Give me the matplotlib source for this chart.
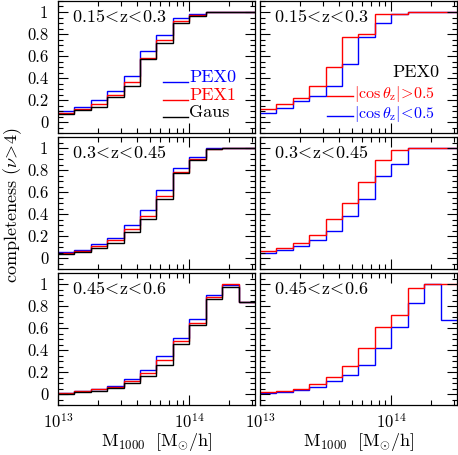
import matplotlib
matplotlib.use('Agg')
import matplotlib.pyplot as plt
from matplotlib.ticker import MultipleLocator, LogLocator, NullFormatter

plt.rcParams['font.family'] = 'serif'
plt.rcParams['font.serif'] = ['cmr10']
plt.rcParams['mathtext.fontset'] = 'cm'
plt.rcParams['axes.formatter.use_mathtext'] = True

# bin edges in log10(M1000)
log_edges = [13.0, 13.125, 13.25, 13.375, 13.5, 13.625, 13.75, 13.875,
             14.0, 14.125, 14.25, 14.375, 14.5]
edges = [10 ** e for e in log_edges]

z_labels = [r'0.15\!<\!z\!<\!0.3', r'0.3\!<\!z\!<\!0.45', r'0.45\!<\!z\!<\!0.6']

# left column: PEX0, PEX1, Gaus
pex0 = [
    [0.10, 0.14, 0.20, 0.28, 0.415, 0.65, 0.79, 0.95, 0.98, 1.0, 1.0, 1.0],
    [0.055, 0.075, 0.13, 0.18, 0.30, 0.435, 0.62, 0.82, 0.92, 1.0, 1.0, 1.0],
    [0.012, 0.03, 0.05, 0.077, 0.14, 0.22, 0.35, 0.51, 0.68, 0.90, 0.99, 0.84],
]
pex1 = [
    [0.085, 0.115, 0.16, 0.25, 0.36, 0.58, 0.745, 0.92, 0.97, 1.0, 1.0, 1.0],
    [0.05, 0.065, 0.11, 0.16, 0.26, 0.385, 0.565, 0.78, 0.90, 0.99, 1.0, 1.0],
    [0.006, 0.025, 0.043, 0.068, 0.117, 0.19, 0.31, 0.48, 0.65, 0.885, 1.0, 0.84],
]
gaus = [
    [0.076, 0.106, 0.14, 0.23, 0.33, 0.57, 0.72, 0.90, 0.965, 1.0, 1.0, 1.0],
    [0.04, 0.055, 0.09, 0.14, 0.235, 0.355, 0.535, 0.77, 0.89, 0.99, 1.0, 1.0],
    [0.0, 0.015, 0.03, 0.055, 0.10, 0.166, 0.26, 0.455, 0.63, 0.86, 0.97, 0.84],
]

# right column: PEX0 split by |cos theta_z|
cos_hi = [
    [0.115, 0.16, 0.22, 0.325, 0.50, 0.77, 0.80, 0.98, 0.98, 1.0, 1.0, 1.0],
    [0.06, 0.09, 0.14, 0.21, 0.355, 0.50, 0.69, 0.895, 0.985, 1.0, 1.0, 1.0],
    [0.015, 0.03, 0.046, 0.092, 0.154, 0.255, 0.415, 0.61, 0.72, 0.96, 1.0, 1.0],
]
cos_lo = [
    [0.085, 0.125, 0.19, 0.235, 0.33, 0.53, 0.775, 0.90, 0.98, 1.0, 1.0, 1.0],
    [0.048, 0.07, 0.11, 0.16, 0.245, 0.385, 0.535, 0.75, 0.855, 1.0, 1.0, 1.0],
    [0.006, 0.02, 0.04, 0.06, 0.114, 0.175, 0.268, 0.42, 0.61, 0.825, 1.0, 0.67],
]

yticks = [0, 0.2, 0.4, 0.6, 0.8, 1]
ytick_labels = ['0', '0.2', '0.4', '0.6', '0.8', '1']

W, H = 458, 455
fig = plt.figure(figsize=(W / 100, H / 100), dpi=100)

col_x = [58, 260]
row_y = [1, 137, 273]
pw, ph = 197, 132
fs = 12
lw = 1.0

axes = []
for r in range(3):
    row = []
    for c in range(2):
        ax = fig.add_axes([col_x[c] / W, 1 - (row_y[r] + ph) / H, pw / W, ph / H])
        ax.set_xscale('log')
        ax.set_xlim(1e13, 10 ** 14.5)
        ax.set_ylim(-0.1, 1.1)
        ax.set_yticks(yticks)
        ax.yaxis.set_minor_locator(MultipleLocator(0.05))
        ax.xaxis.set_major_locator(LogLocator(base=10, numticks=10))
        ax.xaxis.set_minor_locator(LogLocator(base=10, subs=range(2, 10), numticks=10))
        ax.xaxis.set_minor_formatter(NullFormatter())
        ax.tick_params(which='both', direction='in', top=True, right=True,
                       labelsize=fs, width=0.8)
        ax.tick_params(axis='y', pad=7)
        ax.tick_params(axis='x', pad=5)
        ax.tick_params(which='major', length=7)
        ax.tick_params(which='minor', length=3.5)
        if c == 0:
            ax.set_yticklabels(ytick_labels)
        else:
            ax.set_yticklabels([])
        if r < 2:
            ax.set_xticklabels([])
        for s in ax.spines.values():
            s.set_linewidth(0.9)
        ax.text(0.07, 0.88, r'$\mathrm{' + z_labels[r] + '}$', transform=ax.transAxes,
                fontsize=fs + 1, ha='left', va='center')
        row.append(ax)
    axes.append(row)

for r in range(3):
    ax = axes[r][0]
    ax.stairs(pex0[r], edges, baseline=None, color='blue', lw=lw)
    ax.stairs(pex1[r], edges, baseline=None, color='red', lw=lw)
    ax.stairs(gaus[r], edges, baseline=None, color='black', lw=lw)
    ax = axes[r][1]
    ax.stairs(cos_lo[r], edges, baseline=None, color='blue', lw=lw)
    ax.stairs(cos_hi[r], edges, baseline=None, color='red', lw=lw)

# legend, top left
ax = axes[0][0]
for lab, col, y in [('PEX0', 'blue', 0.424), ('PEX1', 'red', 0.288), ('Gaus', 'black', 0.159)]:
    ax.plot([0.533, 0.66], [y - 0.04, y - 0.04], transform=ax.transAxes, color=col, lw=lw)
    ax.text(0.665, y, lab, transform=ax.transAxes, color=col, fontsize=fs + 1,
            ha='left', va='center')

# legend, top right
ax = axes[0][1]
ax.text(0.67, 0.462, 'PEX0', transform=ax.transAxes, color='black', fontsize=fs + 1,
        ha='left', va='center')
for lab, col, y in [(r'$|\cos\theta_{\rm z}|\!>\!0.5$', 'red', 0.295),
                    (r'$|\cos\theta_{\rm z}|\!<\!0.5$', 'blue', 0.145)]:
    ax.plot([0.34, 0.47], [y - 0.015, y - 0.015], transform=ax.transAxes, color=col, lw=lw)
    ax.text(0.475, y, lab, transform=ax.transAxes, color=col, fontsize=fs - 0.5,
            ha='left', va='center')

fig.text(0.027, 1 - 205 / H, r'completeness $(\nu\!>\!4)$', rotation=90,
         ha='center', va='center', fontsize=fs + 1)
for c in range(2):
    fig.text((col_x[c] + pw / 2) / W, 1 - 442 / H,
             r'$\mathrm{M_{1000}\ \ [M_{\odot}/h]}$', ha='center', va='center',
             fontsize=fs + 1)

fig.savefig('out.png', dpi=100)
